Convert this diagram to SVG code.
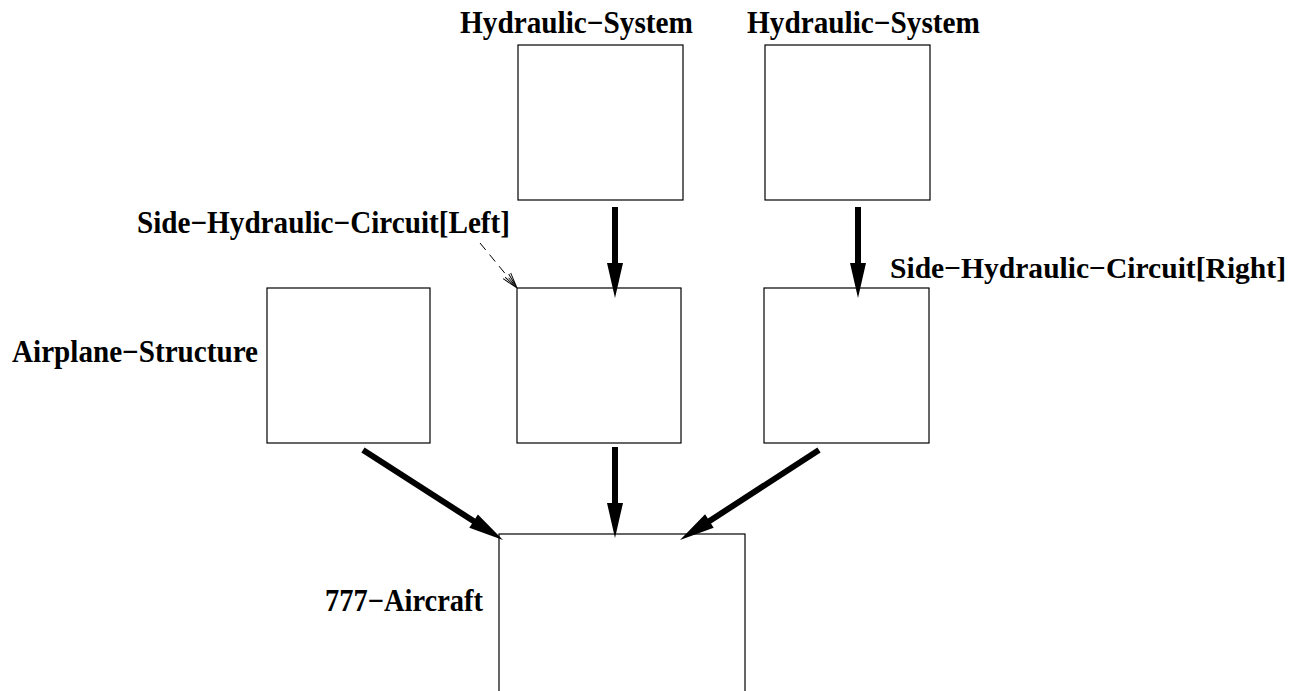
<svg xmlns="http://www.w3.org/2000/svg" width="1300" height="691" viewBox="0 0 1300 691">
<defs>
<style>
.box{fill:#fff;stroke:#000;stroke-width:1.2}
.lbl{font-family:"Liberation Serif","Times New Roman",serif;font-weight:bold;font-size:31px;fill:#000}
.thick{stroke:#000;stroke-width:6;fill:none}
.head{fill:#000;stroke:none}
.dash{stroke:#000;stroke-width:1;fill:none;stroke-dasharray:9,6}
</style>
<marker id="oh" viewBox="0 0 10 10" refX="10" refY="5" markerUnits="userSpaceOnUse" markerWidth="16" markerHeight="16" orient="auto">
<path d="M0,2 L10,5 L0,8 M0,3.5 L10,5 L0,6.5" fill="none" stroke="#000" stroke-width="0.6"/>
</marker>
</defs>
<rect width="1300" height="691" fill="#fff"/>
<g id="hs-left"><rect class="box" x="518" y="45" width="165" height="155"/><text class="lbl" x="460" y="33" textLength="233" lengthAdjust="spacingAndGlyphs">Hydraulic−System</text></g>
<g id="hs-right"><rect class="box" x="765" y="45" width="165" height="155"/><text class="lbl" x="747" y="33" textLength="233" lengthAdjust="spacingAndGlyphs">Hydraulic−System</text></g>
<g id="airplane-structure"><rect class="box" x="267" y="288" width="163" height="155"/><text class="lbl" x="12" y="362" textLength="246" lengthAdjust="spacingAndGlyphs">Airplane−Structure</text></g>
<g id="circuit-left"><rect class="box" x="517" y="288" width="164" height="155"/><text class="lbl" x="137" y="233" textLength="373" lengthAdjust="spacingAndGlyphs">Side−Hydraulic−Circuit[Left]</text></g>
<g id="circuit-right"><rect class="box" x="764" y="288" width="165" height="155"/><text class="lbl" x="890" y="278" style="font-size:29.5px" textLength="396" lengthAdjust="spacingAndGlyphs">Side−Hydraulic−Circuit[Right]</text></g>
<g id="aircraft-777"><rect class="box" x="499" y="534" width="246" height="170"/><text class="lbl" x="325" y="611" textLength="158" lengthAdjust="spacingAndGlyphs">777−Aircraft</text></g>
<g id="connectors">
<line class="thick" x1="615" y1="207" x2="615" y2="265"/>
<polygon class="head" points="607,263 623,263 615,298"/>
<line class="thick" x1="858" y1="207" x2="858" y2="265"/>
<polygon class="head" points="850,263 866,263 858,298"/>
<line class="thick" x1="615" y1="447" x2="615" y2="505"/>
<polygon class="head" points="607,503 623,503 615,538"/>
<line class="thick" x1="363" y1="450" x2="475" y2="522"/>
<polygon class="head" points="469.3,527.8 477.9,514.4 503,540"/>
<line class="thick" x1="819" y1="450" x2="708" y2="522"/>
<polygon class="head" points="713.7,527.7 705.1,514.3 680,540"/>
<line class="dash" x1="480" y1="243" x2="517" y2="288" marker-end="url(#oh)"/>
</g>
</svg>
